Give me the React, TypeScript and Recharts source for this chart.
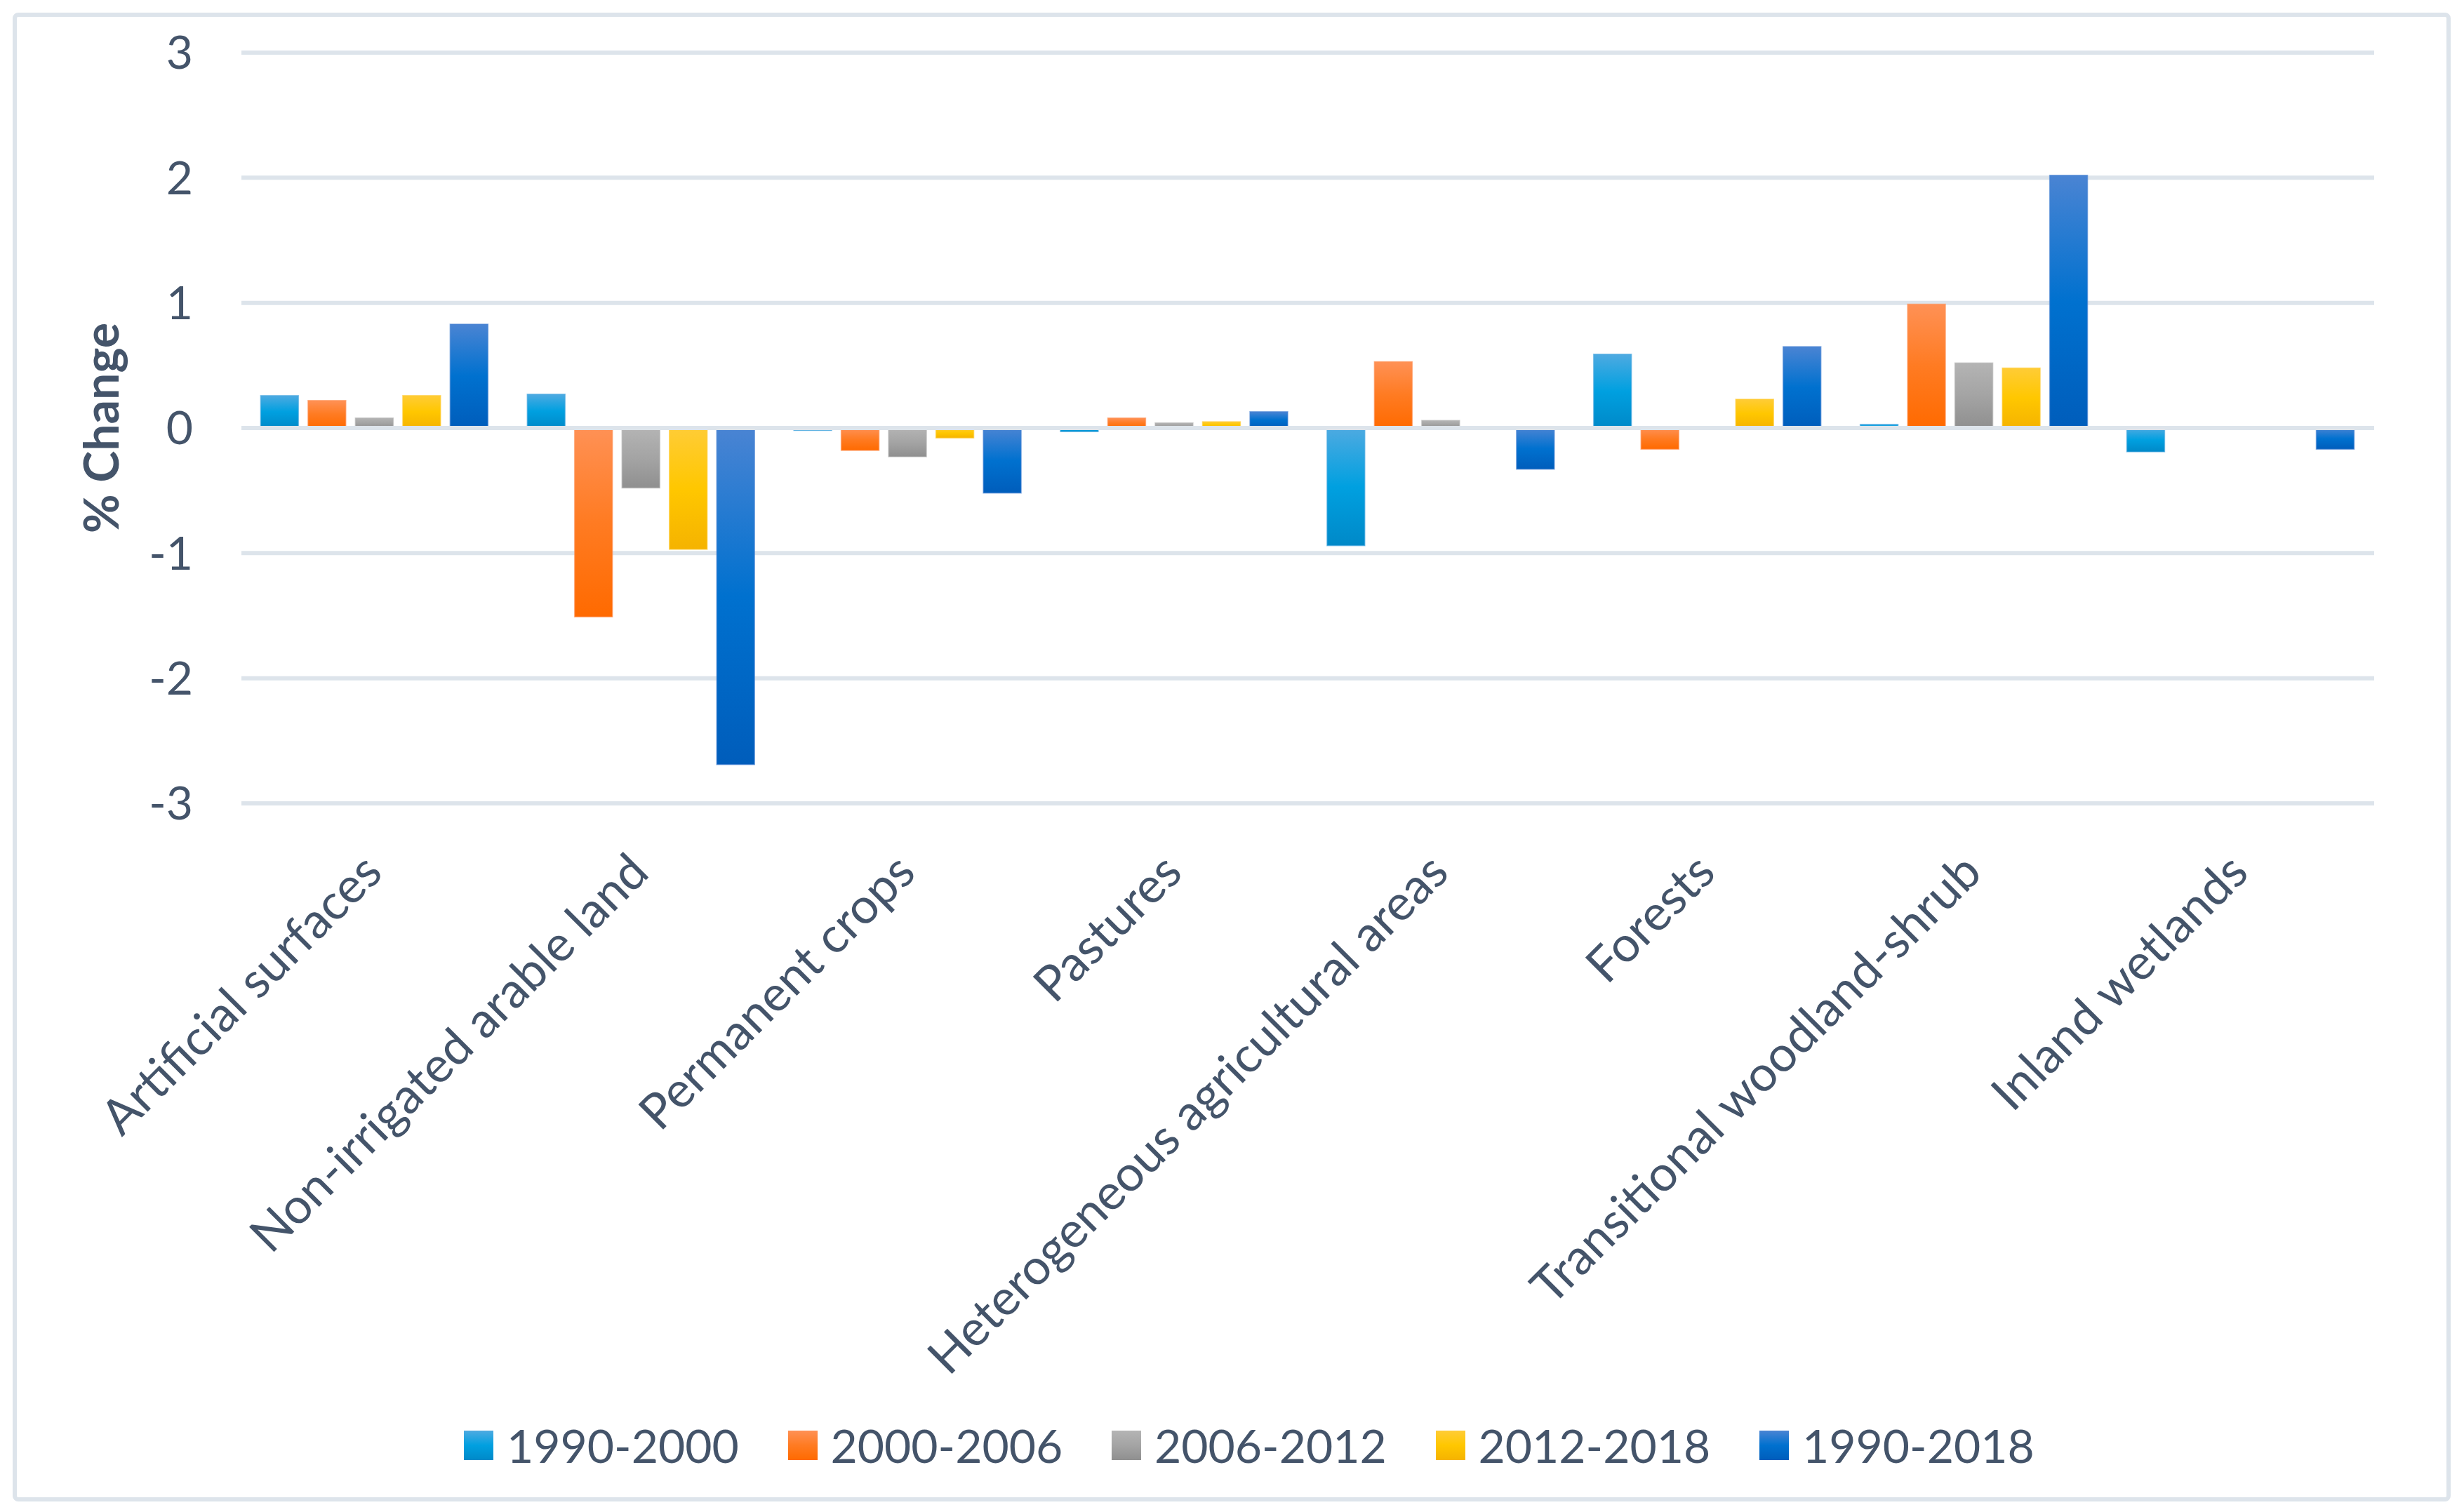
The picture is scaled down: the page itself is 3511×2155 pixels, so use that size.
import React from 'react';
import {
  BarChart,
  Bar,
  XAxis,
  YAxis,
  CartesianGrid,
  Legend,
  ReferenceLine,
} from 'recharts';

const CATEGORIES = [
  'Artificial surfaces',
  'Non-irrigated arable land',
  'Permanent crops',
  'Pastures',
  'Heterogeneous agricultural areas',
  'Forests',
  'Transitional woodland-shrub',
  'Inland wetlands',
];

const SERIES_NAMES = ['1990-2000', '2000-2006', '2006-2012', '2012-2018', '1990-2018'];

const CHANGE_1990_2000 = [0.26, 0.27, -0.02, -0.03, -0.94, 0.59, 0.03, -0.19];
const CHANGE_2000_2006 = [0.22, -1.51, -0.18, 0.08, 0.53, -0.17, 0.99, 0];
const CHANGE_2006_2012 = [0.08, -0.48, -0.23, 0.04, 0.06, 0, 0.52, 0];
const CHANGE_2012_2018 = [0.26, -0.97, -0.08, 0.05, 0, 0.23, 0.48, 0];
const CHANGE_1990_2018 = [0.83, -2.69, -0.52, 0.13, -0.33, 0.65, 2.02, -0.17];

const Y_TICKS = [-3, -2, -1, 0, 1, 2, 3];

const SERIES_VALUES = [
  CHANGE_1990_2000,
  CHANGE_2000_2006,
  CHANGE_2006_2012,
  CHANGE_2012_2018,
  CHANGE_1990_2018,
];

// top / middle / bottom stops of the gradient fill
const GRADIENTS = [
  ['#4eaae1', '#00a0e0', '#0089c8'],
  ['#ff9155', '#ff7b22', '#ff6a00'],
  ['#b4b4b4', '#a4a4a4', '#8f8f8f'],
  ['#ffcc36', '#ffc700', '#f5b300'],
  ['#4a84d3', '#0071cf', '#005dbb'],
];

const data = CATEGORIES.map((category, i) => {
  const row: Record<string, string | number> = { category };
  SERIES_NAMES.forEach((name, s) => {
    row[name] = SERIES_VALUES[s][i];
  });
  return row;
});

const FONT = 'Lato, "Open Sans", sans-serif';
const TEXT = '#44546a';
const GRID = '#dde4eb';

const CategoryTick = (props: any) => {
  const { x, y, payload } = props;
  return (
    <g transform={`translate(${x},${y})`}>
      <text
        transform="translate(14,102) rotate(-45)"
        textAnchor="end"
        fill={TEXT}
        fontSize={70}
        fontFamily={FONT}
      >
        {payload.value}
      </text>
    </g>
  );
};

const YLabel = () => (
  <text
    x={169}
    y={610}
    transform="rotate(-90 169 610)"
    textAnchor="middle"
    fill={TEXT}
    fontSize={68}
    fontWeight="bold"
    fontFamily={FONT}
  >
    % Change
  </text>
);

const LegendContent = () => (
  <div style={{ position: 'relative', height: 100, fontFamily: FONT, fontSize: 66, color: TEXT }}>
    {SERIES_NAMES.map((name, i) => (
      <div
        key={name}
        style={{
          position: 'absolute',
          left: 661 + i * 461.5,
          top: 29,
          height: 42,
          display: 'flex',
          alignItems: 'center',
          whiteSpace: 'nowrap',
        }}
      >
        <svg width={42} height={42} style={{ display: 'block' }}>
          <defs>
            <linearGradient id={`leg-${i}`} x1="0" y1="0" x2="0" y2="1">
              <stop offset="0%" stopColor={GRADIENTS[i][0]} />
              <stop offset="50%" stopColor={GRADIENTS[i][1]} />
              <stop offset="100%" stopColor={GRADIENTS[i][2]} />
            </linearGradient>
          </defs>
          <rect width={42} height={42} fill={`url(#leg-${i})`} />
        </svg>
        <span style={{ marginLeft: 19, lineHeight: '42px' }}>{name}</span>
      </div>
    ))}
  </div>
);

export default function App() {
  return (
    <div style={{ position: 'absolute', left: 0, top: 0, width: 3511, height: 2155, background: '#fff' }}>
      <div
        style={{
          position: 'absolute',
          left: 18,
          top: 18,
          width: 3474,
          height: 2122,
          border: `6px solid ${GRID}`,
          borderRadius: 8,
          boxSizing: 'border-box',
        }}
      />
      <div style={{ position: 'absolute', left: 0, top: 0 }}>
        <BarChart
          width={3511}
          height={2155}
          data={data}
          margin={{ top: 75, right: 128, bottom: 45, left: 0 }}
          barCategoryGap="7.2%"
          barGap={13.5}
        >
          <defs>
            {GRADIENTS.map((g, i) => (
              <linearGradient key={i} id={`bar-${i}`} x1="0" y1="0" x2="0" y2="1">
                <stop offset="0%" stopColor={g[0]} />
                <stop offset="50%" stopColor={g[1]} />
                <stop offset="100%" stopColor={g[2]} />
              </linearGradient>
            ))}
          </defs>
          <CartesianGrid horizontal vertical={false} stroke={GRID} strokeWidth={6} />
          <XAxis
            dataKey="category"
            axisLine={false}
            tickLine={false}
            tickSize={0}
            tickMargin={0}
            height={865}
            interval={0}
            tick={<CategoryTick />}
          />
          <YAxis
            domain={[-3, 3]}
            ticks={Y_TICKS}
            axisLine={false}
            tickLine={false}
            tickSize={0}
            tickMargin={69}
            width={344}
            tick={{ fill: TEXT, fontSize: 66, fontFamily: FONT }}
            label={<YLabel />}
          />
          <Legend verticalAlign="bottom" content={<LegendContent />} />
          {SERIES_NAMES.map((name, i) => (
            <Bar
              key={name}
              dataKey={name}
              fill={`url(#bar-${i})`}
              stroke={GRADIENTS[i][0]}
              strokeWidth={1.5}
              strokeOpacity={0.6}
              isAnimationActive={false}
            />
          ))}
          <ReferenceLine y={0} stroke={GRID} strokeWidth={6} />
        </BarChart>
      </div>
    </div>
  );
}
